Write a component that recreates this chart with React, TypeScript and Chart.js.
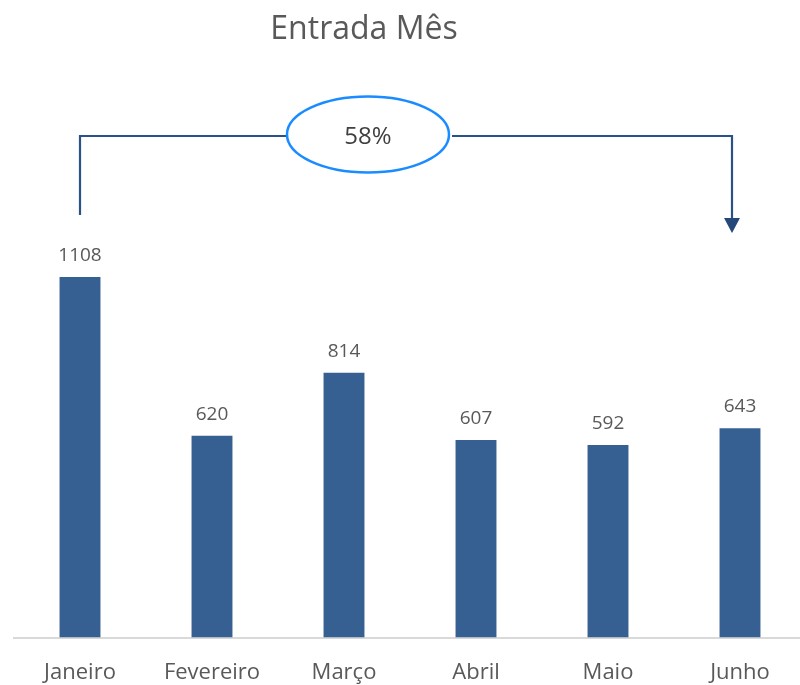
import React, { useEffect, useRef } from "react";
import { Chart, registerables } from "chart.js";

Chart.register(...registerables);

const categories = ["Janeiro", "Fevereiro", "Março", "Abril", "Maio", "Junho"];
const values = [1108, 620, 814, 607, 592, 643];
const titleText = "Entrada Mês";
const growthLabel = "58%";

const FONT = "'Open Sans', 'Noto Sans', sans-serif";
const TEXT = "#595959";

const overlayPlugin = {
  id: "overlay",
  afterDatasetsDraw(chart: any) {
    const ctx = chart.ctx as CanvasRenderingContext2D;
    const meta = chart.getDatasetMeta(0);
    ctx.save();
    // data labels
    ctx.fillStyle = TEXT;
    ctx.font = `19px ${FONT}`;
    ctx.textAlign = "center";
    ctx.textBaseline = "alphabetic";
    meta.data.forEach((bar: any, i: number) => {
      ctx.fillText(String(values[i]), bar.x, bar.y - 16);
    });

    // title
    ctx.font = `32px ${FONT}`;
    ctx.fillText(titleText, 364, 39);

    // bracket annotation
    const xs = chart.scales.x;
    const xl = Math.round(xs.getPixelForValue(0));
    const xr = Math.round(xs.getPixelForValue(categories.length - 1)) - 8;
    const yLine = 136;
    const cx = 368, cy = 134.5, rx = 81, ry = 38;
    ctx.strokeStyle = "#2B5288";
    ctx.lineWidth = 2.2;
    ctx.beginPath();
    ctx.moveTo(xl, 215);
    ctx.lineTo(xl, yLine);
    ctx.lineTo(cx - rx, yLine);
    ctx.moveTo(cx + rx + 3, yLine);
    ctx.lineTo(xr, yLine);
    ctx.lineTo(xr, 220);
    ctx.stroke();
    ctx.fillStyle = "#24487A";
    ctx.beginPath();
    ctx.moveTo(xr - 8, 218);
    ctx.lineTo(xr + 8, 218);
    ctx.lineTo(xr, 233);
    ctx.closePath();
    ctx.fill();

    // ellipse
    ctx.beginPath();
    ctx.ellipse(cx, cy, rx, ry, 0, 0, Math.PI * 2);
    ctx.fillStyle = "#ffffff";
    ctx.fill();
    ctx.strokeStyle = "#1A8CFF";
    ctx.lineWidth = 2.5;
    ctx.stroke();

    ctx.fillStyle = "#404040";
    ctx.font = `24px ${FONT}`;
    ctx.textBaseline = "middle";
    ctx.fillText(growthLabel, cx, 137);
    ctx.restore();
  },
};

export default function App() {
  const ref = useRef<HTMLCanvasElement | null>(null);
  useEffect(() => {
    document.body.style.margin = "0";
    document.body.style.overflow = "hidden";
    document.documentElement.style.overflow = "hidden";
    const canvas = ref.current!;
    const chart = new Chart(canvas, {
      type: "bar",
      data: {
        labels: categories,
        datasets: [
          {
            data: values,
            backgroundColor: "#376092",
            borderWidth: 0,
            categoryPercentage: 1,
            barPercentage: 0.31,
          },
        ],
      },
      options: {
        responsive: false,
        animation: false,
        layout: { padding: { left: 14, right: 0, top: 247, bottom: 0 } },
        plugins: {
          legend: { display: false },
          title: { display: false },
          tooltip: { enabled: false },
        },
        scales: {
          x: {
            offset: true,
            grid: { display: false, drawTicks: false },
            border: { display: true, color: "#D9D9D9", width: 2 },
            ticks: {
              color: TEXT,
              font: { family: FONT, size: 22 },
              padding: 22,
              maxRotation: 0,
              autoSkip: false,
            },
          },
          y: {
            display: false,
            min: 0,
            max: 1200,
          },
        },
      },
      plugins: [overlayPlugin],
    });
    return () => chart.destroy();
  }, []);
  return (
    <div style={{ width: 806, height: 685, overflow: "hidden" }}>
      <canvas ref={ref} width={806} height={708} style={{ display: "block" }} />
    </div>
  );
}
